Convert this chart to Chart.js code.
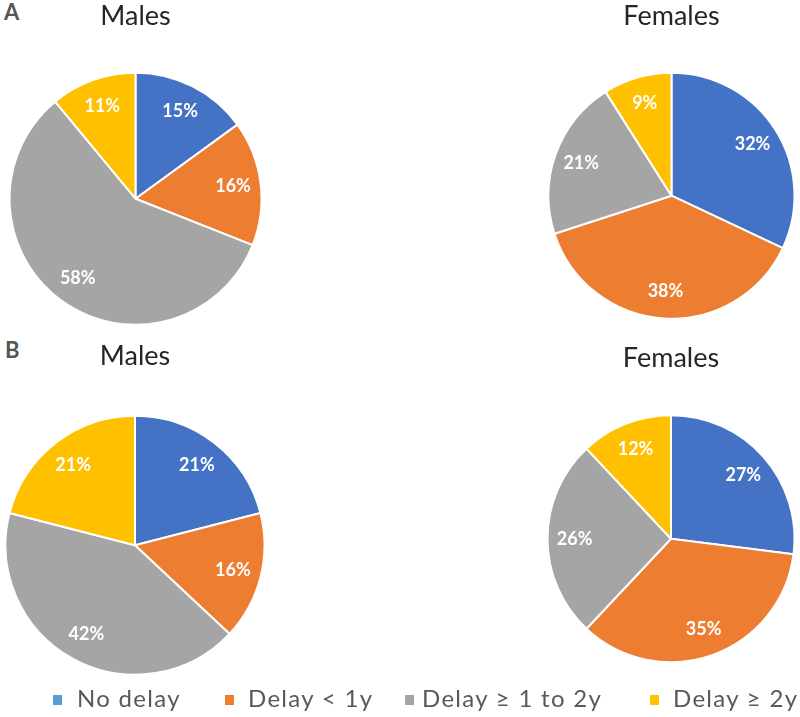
<!DOCTYPE html>
<html>
<head>
<meta charset="utf-8">
<script src="https://cdn.jsdelivr.net/npm/chart.js@4.4.1/dist/chart.umd.min.js"></script>
<style>
    html, body { margin: 0; padding: 0; background: #fff; overflow: hidden; }
    body { position: relative; width: 800px; height: 717px; font-family: Lato, sans-serif; }
    canvas { position: absolute; }
    .panel { position: absolute; font-weight: bold; font-size: 22px; line-height: 1; color: #555; }
    .legendMark { position: absolute; width: 9px; height: 10px; }
    .legendText { position: absolute; font-size: 24px; line-height: 1; color: #595959; letter-spacing: 1.3px; white-space: nowrap; }
</style>
</head>
<body>
<div class="panel" style="left:4px; top:1px">A</div>
<div class="panel" style="left:5px; top:339px">B</div>

<canvas id="malesA" width="271" height="365" style="left:0px; top:0px"></canvas>
<canvas id="femalesA" width="253" height="359" style="left:545px; top:0px"></canvas>
<canvas id="malesB" width="270" height="378" style="left:0px; top:340px"></canvas>
<canvas id="femalesB" width="252" height="361" style="left:545px; top:342px"></canvas>

<div id="legend"></div>

<script>
const categories = ['No delay', 'Delay < 1y', 'Delay \u2265 1 to 2y', 'Delay \u2265 2y']
const malesA = [15, 16, 58, 11]
const femalesA = [32, 38, 21, 9]
const malesB = [21, 16, 42, 21]
const femalesB = [27, 35, 26, 12]

const sliceColors = ['#4472C4', '#ED7D31', '#A5A5A5', '#FFC000']
const legendColors = ['#5B9BD5', '#ED7D31', '#A5A5A5', '#FFC000']

// percent labels inside each slice, like the Excel data labels
const sliceLabels = {
    id: 'sliceLabels',
    afterDatasetsDraw(chart) {
        const ctx = chart.ctx
        const meta = chart.getDatasetMeta(0)
        const values = chart.data.datasets[0].data
        ctx.save()
        ctx.fillStyle = '#fff'
        ctx.font = 'bold 18px Lato'
        ctx.textAlign = 'center'
        ctx.textBaseline = 'middle'
        meta.data.forEach((arc, i) => {
            const p = arc.getProps(['x', 'y', 'startAngle', 'endAngle', 'outerRadius'], true)
            const mid = (p.startAngle + p.endAngle) / 2
            const r = p.outerRadius * 0.78
            ctx.fillText(values[i] + '%', p.x + Math.cos(mid) * r, p.y + Math.sin(mid) * r)
        })
        ctx.restore()
    }
}

function makePie(canvasId, title, values, radius) {
    const ctx = document.getElementById(canvasId).getContext('2d')
    return new Chart(ctx, {
        type: 'pie',
        data: {
            labels: categories,
            datasets: [{
                data: values,
                backgroundColor: sliceColors,
                borderColor: '#fff',
                borderWidth: 2
            }]
        },
        options: {
            responsive: false,
            animation: false,
            devicePixelRatio: 1,
            radius: radius,
            layout: { padding: 0 },
            plugins: {
                legend: { display: false },
                tooltip: { enabled: false },
                title: {
                    display: true,
                    text: title,
                    color: '#262626',
                    font: { family: 'Lato', size: 27, weight: 'normal', lineHeight: 1.2 },
                    padding: { top: 0, bottom: 0 }
                }
            }
        },
        plugins: [sliceLabels]
    })
}

makePie('malesA', 'Males', malesA, 126)
makePie('femalesA', 'Females', femalesA, 123)
makePie('malesB', 'Males', malesB, 129.5)
makePie('femalesB', 'Females', femalesB, 123.5)

// legend along the bottom
const legend = document.getElementById('legend')
const markLeft = [53, 225, 405, 650]
const textLeft = [77, 248, 422, 673]
categories.forEach((name, i) => {
    const mark = document.createElement('div')
    mark.className = 'legendMark'
    mark.style.left = markLeft[i] + 'px'
    mark.style.top = '695px'
    mark.style.background = legendColors[i]
    const text = document.createElement('div')
    text.className = 'legendText'
    text.style.left = textLeft[i] + 'px'
    text.style.top = '686px'
    text.textContent = name
    legend.appendChild(mark)
    legend.appendChild(text)
})
</script>
</body>
</html>
